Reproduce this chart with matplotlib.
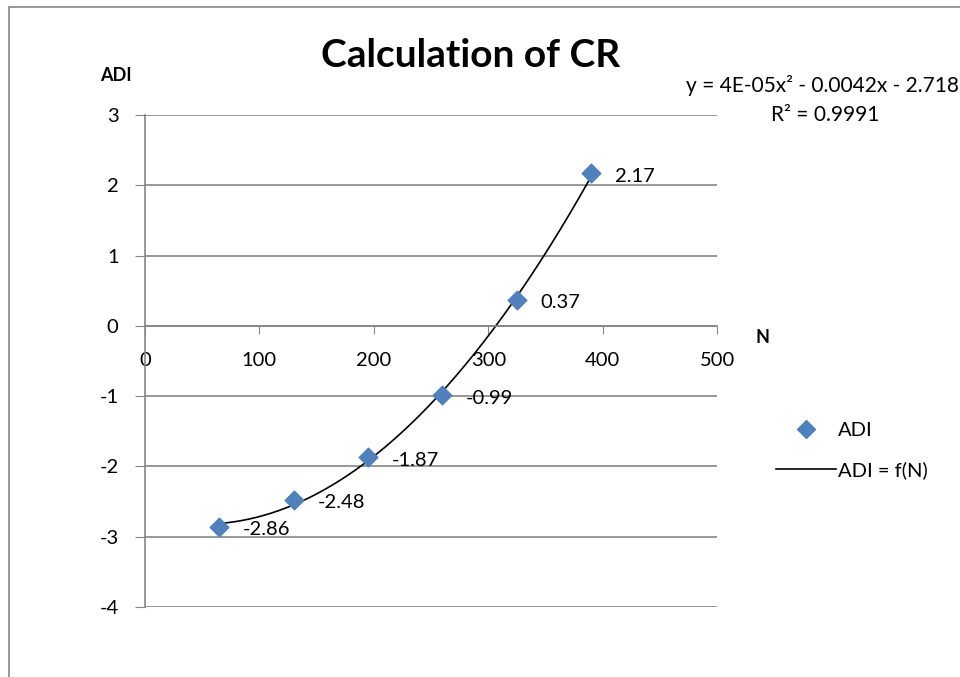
import numpy as np
import matplotlib.pyplot as plt
from matplotlib.lines import Line2D
from matplotlib.patches import Rectangle

plt.rcParams['font.family'] = ['Lato', 'DejaVu Sans']
plt.rcParams['axes.unicode_minus'] = False

# data
n_vals = [65, 130, 195, 260, 325, 390]
adi_vals = [-2.86, -2.48, -1.87, -0.99, 0.37, 2.17]
adi_labels = ['-2.86', '-2.48', '-1.87', '-0.99', '0.37', '2.17']
y_ticks = [3, 2, 1, 0, -1, -2, -3, -4]
x_ticks = [0, 100, 200, 300, 400, 500]

grey = '#868686'
blue = '#4F81BD'

fig = plt.figure(figsize=(9.6, 6.77), dpi=100)
ax = fig.add_axes([0.151, 0.1034, 0.596, 0.7267])

# 2nd order trendline, fitted to the points
coef = np.polyfit(n_vals, adi_vals, 2)
xf = np.linspace(min(n_vals), max(n_vals), 200)
ax.plot(xf, np.polyval(coef, xf), color='black', lw=1.2, zorder=2)

ax.scatter(n_vals, adi_vals, marker='D', s=90, color=blue, zorder=3)
for x, y, t in zip(n_vals, adi_vals, adi_labels):
    ax.annotate(t, (x, y), xytext=(17, -2), textcoords='offset points',
                fontsize=14.5, va='center', ha='left')

ax.set_xlim(0, 500)
ax.set_ylim(-4, 3)
ax.set_yticks(y_ticks)
ax.set_xticks(x_ticks)
for y in y_ticks:
    ax.axhline(y, color=grey, lw=1.2, zorder=1)

ax.spines['top'].set_visible(False)
ax.spines['right'].set_visible(False)
ax.spines['bottom'].set_position(('data', 0))
ax.spines['left'].set_color(grey)
ax.spines['bottom'].set_color(grey)
ax.spines['left'].set_linewidth(1.2)
ax.spines['bottom'].set_linewidth(1.2)
ax.tick_params(axis='y', length=7, color=grey, labelsize=14.5, pad=12)
ax.tick_params(axis='x', length=6, color=grey, labelsize=14.5, pad=13)

fig.text(0.121, 0.888, 'ADI', fontsize=13, fontweight='bold', ha='center', va='center')
fig.text(0.794, 0.501, 'N', fontsize=13, fontweight='bold', ha='center', va='center')
fig.text(0.490, 0.918, 'Calculation of CR', fontsize=28, fontweight='bold',
         ha='center', va='center')
fig.text(0.999, 0.873, 'y = 4E-05x² - 0.0042x - 2.718', fontsize=15,
         ha='right', va='center')
fig.text(0.860, 0.830, 'R² = 0.9991', fontsize=15, ha='center', va='center')

handles = [Line2D([], [], marker='D', ls='none', color=blue, markersize=9),
           Line2D([], [], color='black', lw=1.2)]
fig.legend(handles, ['ADI', 'ADI = f(N)'], loc='center left',
           bbox_to_anchor=(0.789, 0.335), frameon=False, fontsize=14.5,
           handlelength=3.0, handletextpad=0.1, labelspacing=1.1)

# chart frame (cropped)
fig.patches.append(Rectangle((0.009, -0.05), 1.2, 1.04, transform=fig.transFigure,
                             fill=False, edgecolor=grey, lw=1.2))

fig.savefig('out.png', dpi=100)
